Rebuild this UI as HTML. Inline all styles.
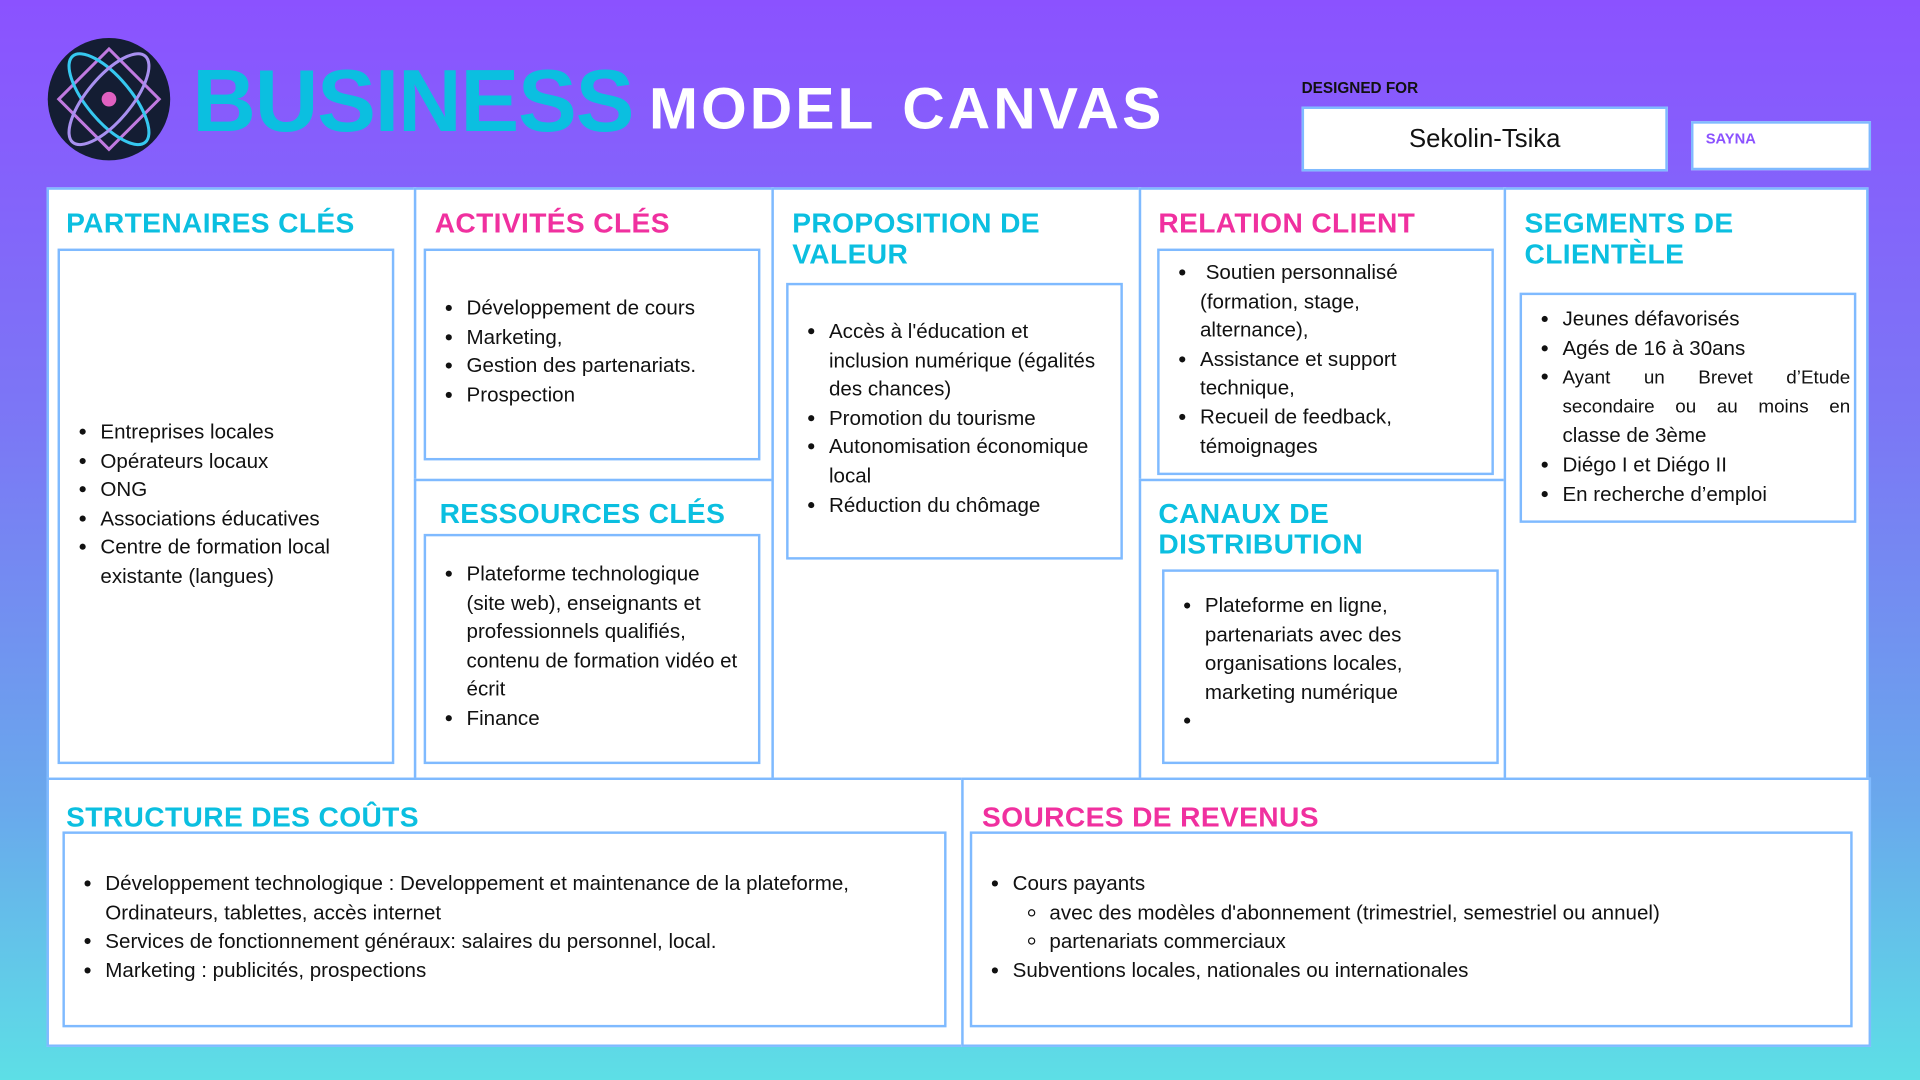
<!DOCTYPE html>
<html><head><meta charset="utf-8"><style>
html,body{margin:0;padding:0;width:1920px;height:1080px;overflow:hidden}
body{background:linear-gradient(180deg,#8b52ff 0%,#7b78f5 40%,#69a9ec 75%,#5ddfe6 100%)}
#w{position:absolute;left:0;top:0;width:1568px;height:882px;transform:scale(1.22449);transform-origin:0 0;font-family:"Liberation Sans",sans-serif}
.a{position:absolute}
.cell{position:absolute;background:#fff;border:2px solid #7fbaff;box-sizing:border-box}
.box{position:absolute;border:2px solid #7fbaff;box-sizing:border-box;background:#fff}
.t{position:absolute;font-weight:bold;font-size:23px;line-height:25px;letter-spacing:0.3px}
.c{color:#0bbfe0}.p{color:#f0309f}
ul{margin:0;padding-left:20px;font-size:16.8px;line-height:23.6px;color:#111}
ul ul{list-style:circle;padding-left:30px}
.j{text-align:justify;text-align-last:justify;font-size:15.4px;width:235px;white-space:nowrap}
</style></head><body>
<div id="w">
<svg class="a" style="left:38px;top:30px" width="102" height="102" viewBox="0 0 102 102">
<circle cx="51" cy="51" r="50" fill="#141d33"/>
<polygon points="51,10 92,51 51,92 10,51" fill="none" stroke="#c07ae0" stroke-width="2.5"/>
<ellipse cx="51" cy="51" rx="18" ry="46" transform="rotate(-40 51 51)" fill="none" stroke="#36c8f0" stroke-width="2.5"/>
<ellipse cx="51" cy="51" rx="18" ry="46" transform="rotate(40 51 51)" fill="none" stroke="#a890f0" stroke-width="2.5"/>
<circle cx="51" cy="51" r="6" fill="#e060c0"/>
</svg>
<div class="a" style="left:157px;top:42px;font-size:72px;font-weight:bold;color:#0bbfe0;letter-spacing:-1px">BUSINESS</div>
<div class="a" style="left:530px;top:62px;font-size:48px;font-weight:bold;color:#fff;letter-spacing:2.5px;word-spacing:6px">MODEL CANVAS</div>
<div class="a" style="left:1063px;top:65px;font-size:12.5px;font-weight:bold;color:#111">DESIGNED FOR</div>
<div class="box" style="left:1063px;top:87px;width:299px;height:53px;text-align:center;font-size:21px;line-height:49px;color:#111">Sekolin-Tsika</div>
<div class="box" style="left:1381px;top:99px;width:147px;height:40px;font-size:12px;font-weight:bold;color:#8b52ff;padding:5px 0 0 10px">SAYNA</div>

<div class="cell" style="left:38px;top:153px;width:302px;height:484px"></div>
<div class="cell" style="left:338px;top:153px;width:294px;height:240px"></div>
<div class="cell" style="left:338px;top:391px;width:294px;height:246px"></div>
<div class="cell" style="left:630px;top:153px;width:302px;height:484px"></div>
<div class="cell" style="left:930px;top:153px;width:300px;height:240px"></div>
<div class="cell" style="left:930px;top:391px;width:300px;height:246px"></div>
<div class="cell" style="left:1228px;top:153px;width:298px;height:484px"></div>
<div class="cell" style="left:38px;top:635px;width:749px;height:220px"></div>
<div class="cell" style="left:785px;top:635px;width:743px;height:220px"></div>

<div class="t c" style="left:54px;top:170px">PARTENAIRES CLÉS</div>
<div class="box" style="left:47px;top:203px;width:275px;height:421px"></div>
<ul class="a" style="left:62px;top:341px;width:230px">
<li>Entreprises locales</li><li>Opérateurs locaux</li><li>ONG</li><li>Associations éducatives</li><li>Centre de formation local existante (langues)</li></ul>

<div class="t p" style="left:355px;top:170px">ACTIVITÉS CLÉS</div>
<div class="box" style="left:346px;top:203px;width:275px;height:173px"></div>
<ul class="a" style="left:361px;top:240px;width:250px">
<li>Développement de cours</li><li>Marketing,</li><li>Gestion des partenariats.</li><li>Prospection</li></ul>

<div class="t c" style="left:359px;top:407px">RESSOURCES CLÉS</div>
<div class="box" style="left:346px;top:436px;width:275px;height:188px"></div>
<ul class="a" style="left:361px;top:457px;width:270px">
<li>Plateforme technologique<br>(site web), enseignants et<br>professionnels qualifiés,<br>contenu de formation vidéo et<br>écrit</li><li>Finance</li></ul>

<div class="t c" style="left:647px;top:170px">PROPOSITION DE<br>VALEUR</div>
<div class="box" style="left:642px;top:231px;width:275px;height:226px"></div>
<ul class="a" style="left:657px;top:259px;width:270px">
<li>Accès à l'éducation et<br>inclusion numérique (égalités<br>des chances)</li><li>Promotion du tourisme</li><li>Autonomisation économique<br>local</li><li>Réduction du chômage</li></ul>

<div class="t p" style="left:946px;top:170px">RELATION CLIENT</div>
<div class="box" style="left:945px;top:203px;width:275px;height:185px"></div>
<ul class="a" style="left:960px;top:211px;width:215px">
<li>&nbsp;Soutien personnalisé (formation, stage, alternance),</li><li>Assistance et support technique,</li><li>Recueil de feedback, témoignages</li></ul>

<div class="t c" style="left:946px;top:407px">CANAUX DE<br>DISTRIBUTION</div>
<div class="box" style="left:949px;top:465px;width:275px;height:159px"></div>
<ul class="a" style="left:964px;top:483px;width:210px">
<li>Plateforme en ligne, partenariats avec des organisations locales, marketing numérique</li><li>&nbsp;</li></ul>

<div class="t c" style="left:1245px;top:170px">SEGMENTS DE<br>CLIENTÈLE</div>
<div class="box" style="left:1241px;top:239px;width:275px;height:188px"></div>
<ul class="a" style="left:1256px;top:249px;width:255px">
<li>Jeunes défavorisés</li><li>Agés de 16 à 30ans</li><li><div class="j">Ayant un Brevet d’Etude</div><div class="j">secondaire ou au moins en</div><div>classe de 3ème</div></li><li>Diégo I et Diégo II</li><li>En recherche d’emploi</li></ul>

<div class="t c" style="left:54px;top:655px">STRUCTURE DES COÛTS</div>
<div class="box" style="left:51px;top:679px;width:722px;height:160px"></div>
<ul class="a" style="left:66px;top:710px;width:680px">
<li>Développement technologique : Developpement et maintenance de la plateforme, Ordinateurs, tablettes, accès internet</li><li>Services de fonctionnement généraux: salaires du personnel, local.</li><li>Marketing : publicités, prospections</li></ul>

<div class="t p" style="left:802px;top:655px">SOURCES DE REVENUS</div>
<div class="box" style="left:792px;top:679px;width:721px;height:160px"></div>
<ul class="a" style="left:807px;top:710px;width:690px">
<li>Cours payants<ul><li>avec des modèles d'abonnement (trimestriel, semestriel ou annuel)</li><li>partenariats commerciaux</li></ul></li><li>Subventions locales, nationales ou internationales</li></ul>
</div>
</body></html>
